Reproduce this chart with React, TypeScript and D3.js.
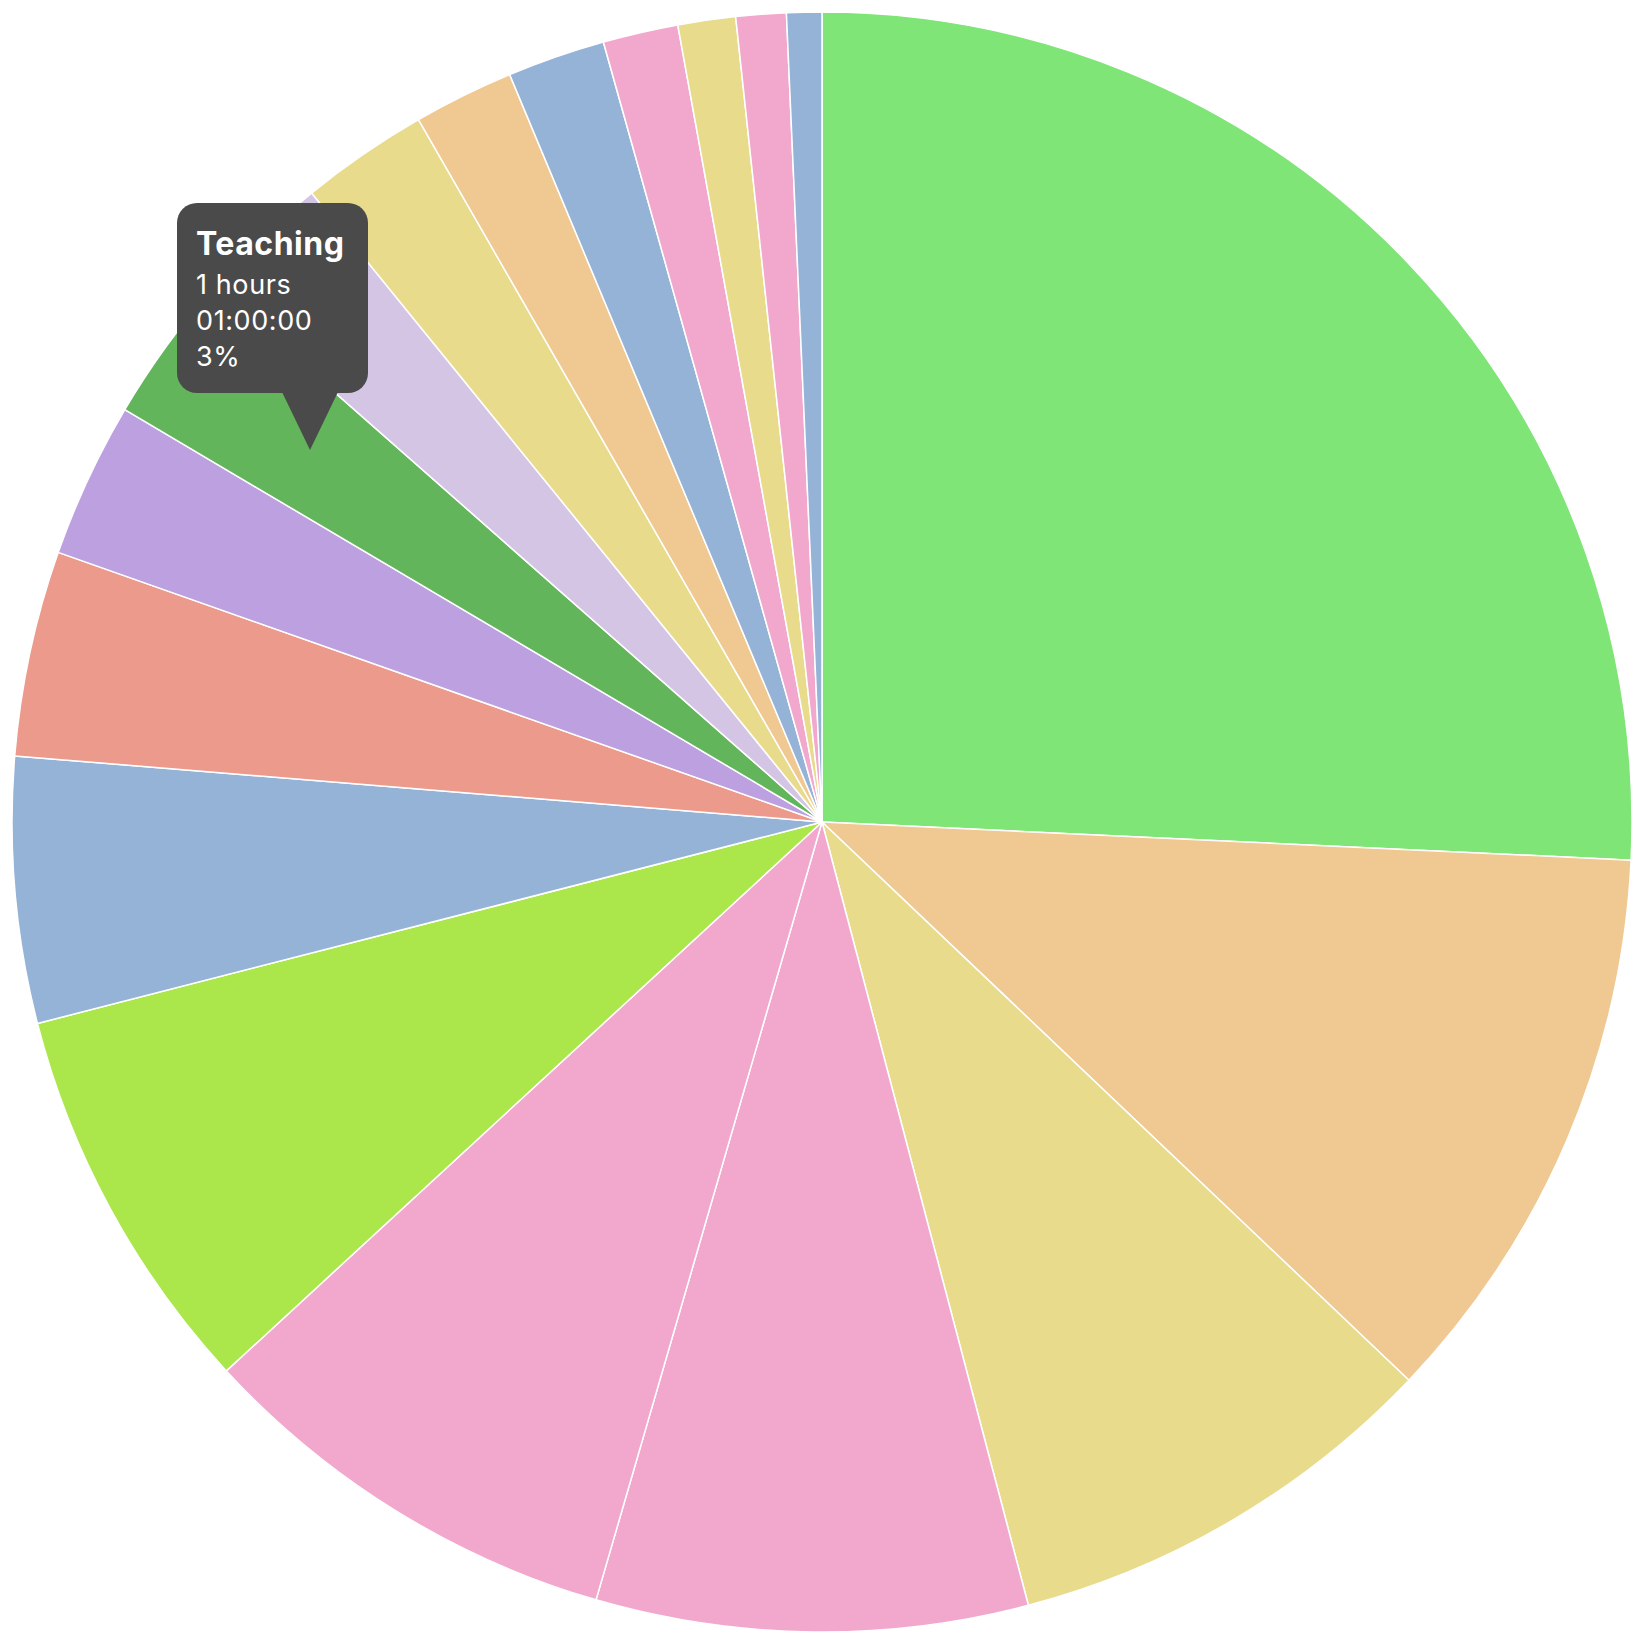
import React, { useMemo } from 'react';
import * as d3 from 'd3';

// time per activity, in minutes
const categories = [
  'Coding', 'Meetings', 'Email', 'Research', 'Writing', 'Planning',
  'Reviews', 'Admin', 'Reading', 'Teaching', 'Calls', 'Design',
  'Testing', 'Support', 'Travel', 'Lunch', 'Breaks', 'Other',
];
const minutes = [515, 227, 176, 172, 173, 157, 106, 82, 62, 60, 53, 51, 40, 39, 30, 23, 20, 14];
const colors = [
  '#7ee576', '#f0c891', '#e8db8c', '#f1a8cc', '#f1a8cc', '#abe64a',
  '#95b3d7', '#eb9a8c', '#bca0e0', '#63b55b', '#d5c5e5', '#e8db8c',
  '#f0c891', '#95b3d7', '#f1a8cc', '#e8db8c', '#f1a8cc', '#95b3d7',
];
const tooltipLines = ['1 hours', '01:00:00', '3%'];

const WIDTH = 1650;
const HEIGHT = 1651;
const CX = 822;
const CY = 822;
const R = 810;

const App: React.FC = () => {
  const slices = useMemo(() => {
    const data = categories.map((name, i) => ({ name, value: minutes[i], color: colors[i] }));
    const pie = d3.pie<{ name: string; value: number; color: string }>()
      .sort(null)
      .value(d => d.value);
    return pie(data);
  }, []);

  const arc = d3.arc<d3.PieArcDatum<{ name: string; value: number; color: string }>>()
    .innerRadius(0)
    .outerRadius(R);

  // tooltip box
  const box = { x: 177, y: 203, w: 191, h: 190, r: 20 };
  const tip = { x: 310, y: 450 };

  return (
    <div style={{ position: 'absolute', left: 0, top: 0 }}>
      <svg width={WIDTH} height={HEIGHT} style={{ display: 'block' }}>
        <rect width={WIDTH} height={HEIGHT} fill="#ffffff" />
        <g transform={`translate(${CX},${CY})`}>
          {slices.map(s => (
            <path
              key={s.data.name}
              d={arc(s) ?? ''}
              fill={s.data.color}
              stroke="#ffffff"
              strokeWidth={1.5}
              strokeLinejoin="round"
            />
          ))}
        </g>
        <g fontFamily="Inter, 'Open Sans', sans-serif" fill="#ffffff">
          <rect x={box.x} y={box.y} width={box.w} height={box.h} rx={box.r} fill="#4a4a4a" />
          <path
            d={`M${tip.x - 28},${box.y + box.h - 1} L${tip.x + 28},${box.y + box.h - 1} L${tip.x},${tip.y} Z`}
            fill="#4a4a4a"
          />
          <text x={196} y={255} fontSize={32} fontWeight={700} letterSpacing={0.5}>Teaching</text>
          {tooltipLines.map((t, i) => (
            <text key={t} x={196} y={294 + i * 36} fontSize={27} letterSpacing={0.6}>{t}</text>
          ))}
        </g>
      </svg>
    </div>
  );
};

export default App;
